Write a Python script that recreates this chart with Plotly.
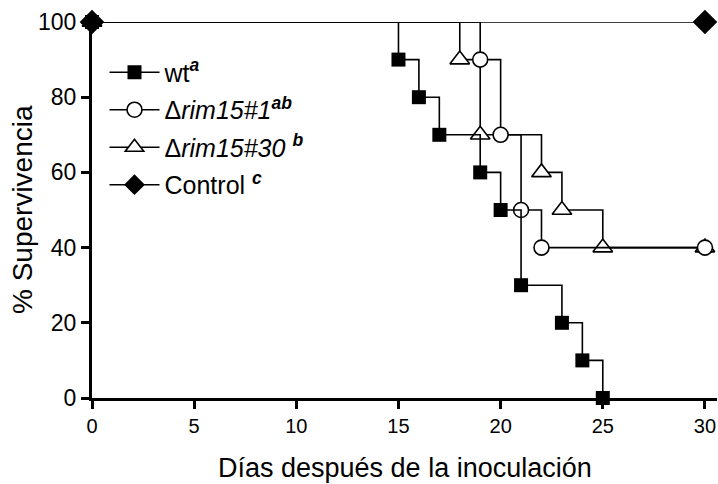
import plotly.graph_objects as go

# Data (Kaplan-Meier style survival steps)
wt_days = [0, 15, 16, 17, 19, 20, 21, 23, 24, 25]
wt_surv = [100, 90, 80, 70, 60, 50, 30, 20, 10, 0]

r1_days = [0, 19, 20, 21, 22, 30]
r1_surv = [100, 90, 70, 50, 40, 40]

r30_days = [0, 18, 19, 22, 23, 25, 30]
r30_surv = [100, 90, 70, 60, 50, 40, 40]

ctrl_days = [0, 30]
ctrl_surv = [100, 100]

x_ticks = [0, 5, 10, 15, 20, 25, 30]
y_ticks = [0, 20, 40, 60, 80, 100]

FONT = "Liberation Sans, Arial, Helvetica, sans-serif"
LW = 1.6

fig = go.Figure()

fig.add_trace(go.Scatter(
    x=r30_days, y=r30_surv, mode="lines+markers", line_shape="hv",
    name="Δ<i>rim15#30</i> <sup><b><i>b</i></b></sup>", legendrank=3, legendgroup="c",
    line=dict(color="black", width=LW),
    marker=dict(symbol="triangle-up", size=17, color="white", line=dict(color="black", width=LW)),
    cliponaxis=False))

fig.add_trace(go.Scatter(
    x=r1_days, y=r1_surv, mode="lines+markers", line_shape="hv",
    name="Δ<i>rim15#1</i><sup><b><i>ab</i></b></sup>", legendrank=2, legendgroup="b",
    line=dict(color="black", width=LW),
    marker=dict(symbol="circle", size=15, color="white", line=dict(color="black", width=LW)),
    cliponaxis=False))

fig.add_trace(go.Scatter(
    x=wt_days, y=wt_surv, mode="lines+markers", line_shape="hv",
    name="wt<sup><b><i>a</i></b></sup>", legendrank=1, legendgroup="a",
    line=dict(color="black", width=LW),
    marker=dict(symbol="square", size=14, color="black", line=dict(color="black", width=0)),
    cliponaxis=False))

fig.add_trace(go.Scatter(
    x=ctrl_days, y=ctrl_surv, mode="lines+markers", line_shape="hv",
    name="Control <sup><b><i>c</i></b></sup>", legendrank=4, legendgroup="d",
    line=dict(color="black", width=LW),
    marker=dict(symbol="diamond", size=19, color="black", line=dict(color="black", width=0)),
    cliponaxis=False))

fig.update_layout(
    width=718, height=484,
    margin=dict(l=92, r=1, t=22, b=86),
    paper_bgcolor="white", plot_bgcolor="white",
    font=dict(family=FONT, color="black"),
    showlegend=True,
    legend=dict(x=0.02, y=0.927, xanchor="left", yanchor="top",
                bgcolor="rgba(0,0,0,0)", font=dict(size=25, family=FONT),
                itemwidth=50, tracegroupgap=2, traceorder="grouped"),
    annotations=[
        dict(text="Días después de la inoculación", x=0.5, y=-0.186, xref="paper", yref="paper",
             xanchor="center", yanchor="middle", showarrow=False,
             font=dict(size=27, family=FONT)),
        dict(text="% Supervivencia", x=-0.112, y=0.5, xref="paper", yref="paper",
             xanchor="center", yanchor="middle", showarrow=False, textangle=-90,
             font=dict(size=28, family=FONT)),
    ],
)

fig.update_xaxes(range=[0, 30.59], tickvals=x_ticks, ticktext=[str(v) for v in x_ticks],
                 showline=True, linewidth=3, linecolor="black", mirror=False,
                 ticks="outside", ticklen=8, tickwidth=3, tickcolor="black",
                 showgrid=False, zeroline=False, tickfont=dict(size=20, family=FONT))
fig.update_yaxes(range=[0, 100], tickvals=y_ticks, ticktext=[str(v) for v in y_ticks],
                 showline=True, linewidth=3, linecolor="black", mirror=False,
                 ticks="outside", ticklen=8, tickwidth=3, tickcolor="black",
                 showgrid=False, zeroline=False, tickfont=dict(size=23, family=FONT))

fig.write_html("out.html", config={"displayModeBar": False},
               post_script="document.body.style.margin='0';document.body.style.overflow='hidden';")
